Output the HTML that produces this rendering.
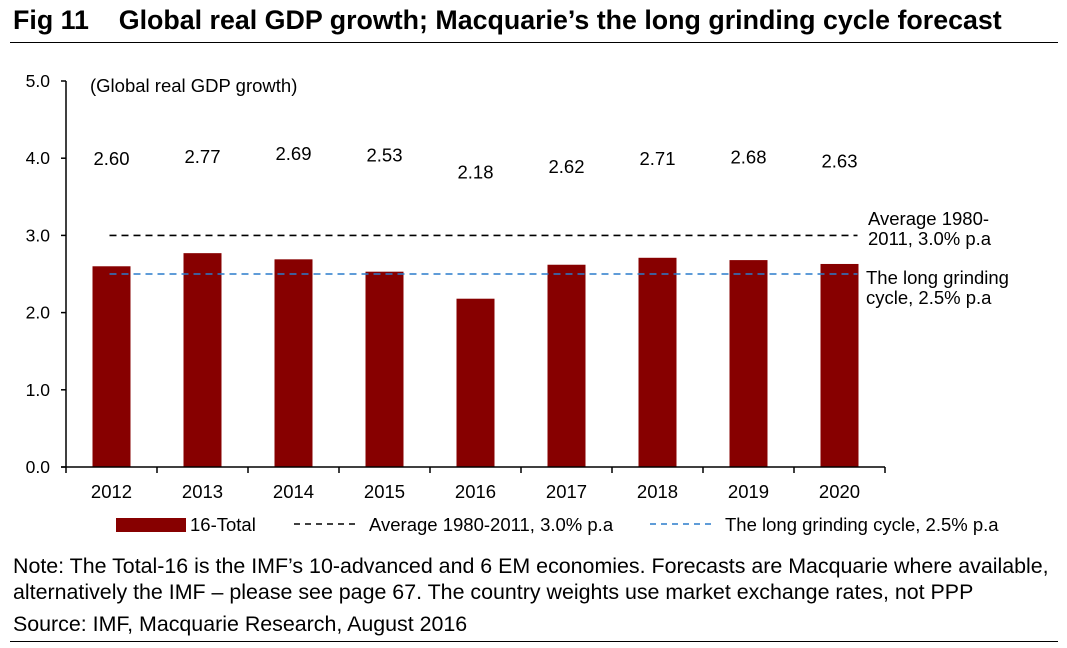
<!DOCTYPE html>
<html><head><meta charset="utf-8"><style>
body{margin:0;background:#fff;font-family:"Liberation Sans",Arial,sans-serif;}
#wrap{position:relative;width:1067px;height:648px;overflow:hidden;}
.t{position:absolute;white-space:nowrap;color:#000;}
</style></head><body>
<div id="wrap">
<div class="t" style="left:13px;top:5px;font-size:26.8px;font-weight:bold;">Fig 11&nbsp;&nbsp;&nbsp;&nbsp;Global real GDP growth; Macquarie’s the long grinding cycle forecast</div>
<div style="position:absolute;left:10px;top:42px;width:1048px;height:1px;background:#000;"></div>
<svg id="chart" width="1067" height="545" style="position:absolute;left:0;top:0;"></svg>
<div class="t" style="left:13px;top:553px;font-size:21.4px;line-height:26px;">Note: The Total-16 is the IMF’s 10-advanced and 6 EM economies. Forecasts are Macquarie where available,<br>alternatively the IMF – please see page 67. The country weights use market exchange rates, not PPP</div>
<div class="t" style="left:13px;top:612px;font-size:21.4px;">Source: IMF, Macquarie Research, August 2016</div>
<div style="position:absolute;left:10px;top:641px;width:1048px;height:1px;background:#000;"></div>
</div>
<script>
const categories=["2012","2013","2014","2015","2016","2017","2018","2019","2020"];
const values=[2.60,2.77,2.69,2.53,2.18,2.62,2.71,2.68,2.63];
const labelVals=["2.60","2.77","2.69","2.53","2.18","2.62","2.71","2.68","2.63"];
const labelLevels=[4.0,4.03,4.07,4.05,3.83,3.9,4.0,4.02,3.97];
const yTicks=[0,1,2,3,4,5];
const yTickLabels=["0.0","1.0","2.0","3.0","4.0","5.0"];
const avgLine=3.0;
const grindLine=2.5;
const NS="http://www.w3.org/2000/svg";
const svg=document.getElementById('chart');
const x0=66,bw=91,y0=467,ppu=77.2;
const FS=18.5;
const X=i=>x0+bw*(i+0.5);
const Y=v=>y0-v*ppu;
function mk(tag,attrs){const e=document.createElementNS(NS,tag);for(const k in attrs)e.setAttribute(k,attrs[k]);svg.appendChild(e);return e;}
values.forEach((v,i)=>{
 const r=mk('rect',{x:X(i)-19,y:Y(v),width:38,height:y0-Y(v),fill:'#870000'});
 
 
 const t=mk('text',{x:X(i),y:Y(labelLevels[i])+7,'font-size':FS,'text-anchor':'middle','font-family':'Liberation Sans, Arial, sans-serif'});
 t.textContent=labelVals[i];
 
 
 const c=mk('text',{x:X(i),y:y0+31,'font-size':FS,'text-anchor':'middle','font-family':'Liberation Sans, Arial, sans-serif'});
 c.textContent=categories[i];
 
 
});
const l1=mk('line',{x1:X(0)-2,x2:X(8)+18,y1:Y(avgLine),y2:Y(avgLine),stroke:'#000','stroke-width':1.6,'stroke-dasharray':'7,5'});


const l2=mk('line',{x1:X(0)-2,x2:X(8)+18,y1:Y(grindLine),y2:Y(grindLine),stroke:'#2a7ccc','stroke-width':1.6,'stroke-dasharray':'7,5'});


const ya=mk('line',{x1:x0,x2:x0,y1:Y(5),y2:y0,stroke:'#000','stroke-width':1.5});


const xa=mk('line',{x1:x0-5,x2:x0+bw*9,y1:y0,y2:y0,stroke:'#000','stroke-width':1.5});


yTicks.forEach((v,i)=>{
 const tk=mk('line',{x1:x0-5,x2:x0,y1:Y(v),y2:Y(v),stroke:'#000','stroke-width':1.5});
 
 
 const t=mk('text',{x:50,y:Y(v)+6,'font-size':17.5,'text-anchor':'end','font-family':'Liberation Sans, Arial, sans-serif'});
 t.textContent=yTickLabels[i];
 
 
});
for(let i=0;i<=9;i++){
 const tk=mk('line',{x1:x0+bw*i,x2:x0+bw*i,y1:y0,y2:y0+6,stroke:'#000','stroke-width':1.5});
 
 
}
function txt(s,x,y,size,name){const t=mk('text',{x:x,y:y,'font-size':size,'font-family':'Liberation Sans, Arial, sans-serif'});t.textContent=s;return t;}
txt('(Global real GDP growth)',90,92,FS,'chart-subtitle');
txt('Average 1980-',868,225,FS,'average-annotation');
txt('2011, 3.0% p.a',868,245,FS,'average-annotation');
txt('The long grinding',866,284,FS,'grinding-annotation');
txt('cycle, 2.5% p.a',866,304,FS,'grinding-annotation');
const lg=mk('rect',{x:116,y:518,width:70,height:14,fill:'#870000'});


txt('16-Total',190,531,FS,'legend-label-16-total');
const la=mk('line',{x1:294,x2:355,y1:524,y2:524,stroke:'#000','stroke-width':1.5,'stroke-dasharray':'6,5'});


txt('Average 1980-2011,  3.0% p.a',369,531,FS,'legend-label-average');
const lb=mk('line',{x1:650,x2:712,y1:524,y2:524,stroke:'#2a7ccc','stroke-width':1.5,'stroke-dasharray':'6,5'});


txt('The long grinding cycle, 2.5% p.a',725,531,FS,'legend-label-grinding');
</script>
</body></html>
